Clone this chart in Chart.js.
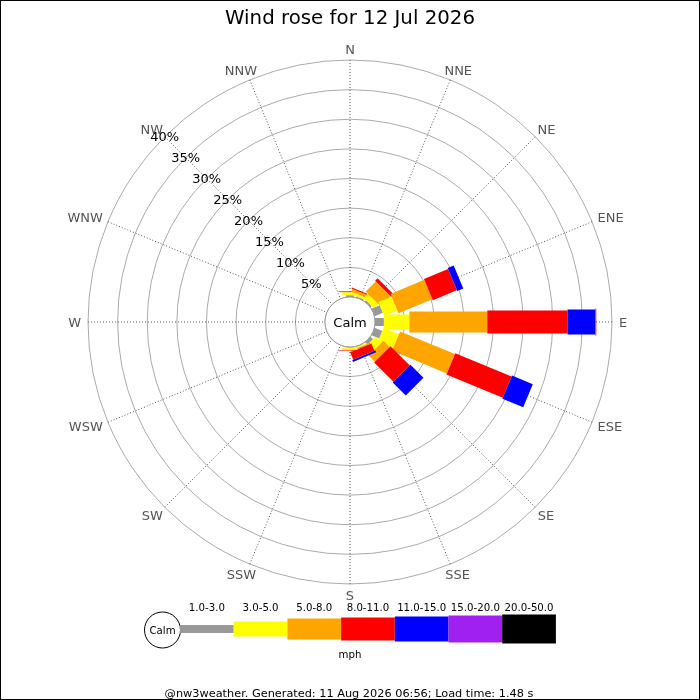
<!DOCTYPE html>
<html>
<head>
<meta charset="utf-8">
<script src="https://cdn.jsdelivr.net/npm/chart.js@4.4.1/dist/chart.umd.min.js"></script>
<style>
  html, body { margin: 0; padding: 0; background: #fff; }
  #wrap { width: 700px; height: 700px; }
</style>
</head>
<body>
<div id="wrap"><canvas id="rose"></canvas></div>
<script>
const directions = ['N', 'NNE', 'NE', 'ENE', 'E', 'ESE', 'SE', 'SSE', 'S', 'SSW', 'SW', 'WSW', 'W', 'WNW', 'NW', 'NNW'];
const speedBins = ['1.0-3.0', '3.0-5.0', '5.0-8.0', '8.0-11.0', '11.0-15.0', '15.0-20.0', '20.0-50.0'];
const binColors = ['#999999', '#ffff00', '#ffa500', '#ff0000', '#0000ff', '#a020f0', '#000000'];

// % of the day per direction, one array per speed band (mph)
const speed1to3   = [0.3, 0.2, 0.3, 1.5, 1.5, 1.4, 0.6, 0.1, 0.1, 0, 0, 0, 0, 0, 0, 0];
const speed3to5   = [0.5, 0.4, 1.0, 2.4, 4.3, 2.8, 1.4, 0.2, 0.4, 0, 0, 0, 0, 0, 0, 0];
const speed5to8   = [0.1, 0.5, 2.4, 6.2, 13.15, 10.0, 1.5, 0.2, 0, 0, 0, 0, 0, 0, 0, 0];
const speed8to11  = [0.1, 0.2, 0.6, 4.4, 13.55, 10.3, 4.6, 1.35, 0.1, 0, 0, 0, 0, 0, 0, 0];
const speed11to15 = [0, 0, 0, 1.1, 4.7, 3.8, 3.1, 0.35, 0, 0, 0, 0, 0, 0, 0, 0];
const speed15to20 = [0, 0, 0, 0, 0.15, 0, 0, 0, 0, 0, 0, 0, 0, 0, 0, 0];
const speed20to50 = [0, 0, 0, 0, 0, 0, 0, 0, 0, 0, 0, 0, 0, 0, 0, 0];

const tickValues = [5, 10, 15, 20, 25, 30, 35, 40];
const tickLabels = ['5%', '10%', '15%', '20%', '25%', '30%', '35%', '40%'];

const titleText = 'Wind rose for 12 Jul 2026';
const footerText = '@nw3weather. Generated: 11 Aug 2026 06:56; Load time: 1.48 s';

const series = [speed1to3, speed3to5, speed5to8, speed8to11, speed11to15, speed15to20, speed20to50];
const barWidths = [8, 15, 21, 23, 25, 27, 29];
const FONT = '"DejaVu Sans", Verdana, sans-serif';

const rosePlugin = {
  id: 'rose',
  afterDatasetsDraw(chart) {
    const ctx = chart.ctx;
    const sc = chart.scales.r;
    const cx = sc.xCenter, cy = sc.yCenter;
    ctx.save();

    // stacked bars, one per direction
    directions.forEach((d, i) => {
      const ang = sc.getIndexAngle(i) - Math.PI / 2;
      let cum = 0;
      chart.data.datasets.forEach((ds, k) => {
        const v = ds.data[i];
        if (!v) return;
        const r0 = sc.getDistanceFromCenterForValue(cum);
        cum += v;
        const r1 = sc.getDistanceFromCenterForValue(cum);
        const w = barWidths[k];
        ctx.save();
        ctx.translate(cx, cy);
        ctx.rotate(ang);
        ctx.fillStyle = ds.backgroundColor;
        ctx.fillRect(r0, -w / 2, r1 - r0, w);
        ctx.restore();
      });
    });

    // calm circle
    const rc = sc.getDistanceFromCenterForValue(0);
    ctx.beginPath();
    ctx.arc(cx, cy, rc, 0, Math.PI * 2);
    ctx.fillStyle = '#fff';
    ctx.fill();
    ctx.strokeStyle = '#999';
    ctx.lineWidth = 1;
    ctx.stroke();
    ctx.fillStyle = '#000';
    ctx.font = '13px ' + FONT;
    ctx.textAlign = 'center';
    ctx.textBaseline = 'middle';
    ctx.fillText('Calm', cx, cy + 1.5);

    // compass labels
    ctx.fillStyle = '#555';
    ctx.font = '13px ' + FONT;
    directions.forEach((d, i) => {
      const a = sc.getIndexAngle(i);
      const p = sc.getPointPosition(i, 269);
      const hw = ctx.measureText(d).width / 2;
      ctx.fillText(d, p.x + hw * Math.sin(a), p.y - 4 * Math.cos(a) + 1.5);
    });

    // percentage labels along NW
    ctx.fillStyle = '#000';
    const nw = directions.indexOf('NW');
    tickValues.forEach((v, j) => {
      const p = sc.getPointPosition(nw, sc.getDistanceFromCenterForValue(v));
      ctx.fillText(tickLabels[j], p.x, p.y + 1);
    });

    // title
    ctx.font = '19.8px ' + FONT;
    ctx.fillText(titleText, 350, 19);

    // legend
    const lx = 180, segW = 53.7, ly = 629;
    ctx.beginPath();
    ctx.arc(162.5, 630, 18, 0, Math.PI * 2);
    ctx.fillStyle = '#fff';
    ctx.fill();
    ctx.strokeStyle = '#000';
    ctx.stroke();
    ctx.fillStyle = '#000';
    ctx.font = '10.2px ' + FONT;
    ctx.fillText('Calm', 162.5, 631);
    speedBins.forEach((b, k) => {
      const x0 = lx + k * segW;
      ctx.fillStyle = binColors[k];
      ctx.fillRect(x0, ly - barWidths[k] / 2, segW, barWidths[k]);
      ctx.fillStyle = '#000';
      ctx.fillText(b, x0 + segW / 2, 608);
    });
    ctx.fillText('mph', 350, 655);

    // footer
    ctx.font = '11.3px ' + FONT;
    ctx.fillText(footerText, 349, 694);

    // frame
    ctx.strokeStyle = '#000';
    ctx.lineWidth = 1;
    ctx.strokeRect(0.5, 0.5, chart.width - 1, chart.height - 1);
    ctx.restore();
  }
};

new Chart(document.getElementById('rose'), {
  type: 'radar',
  data: {
    labels: directions,
    datasets: series.map((s, k) => ({
      label: speedBins[k],
      data: s,
      backgroundColor: binColors[k],
      borderWidth: 0,
      pointRadius: 0,
      showLine: false,
      fill: false
    }))
  },
  options: {
    responsive: true,
    maintainAspectRatio: false,
    animation: false,
    events: [],
    layout: {
      padding: { left: 88, right: 88, top: 60, bottom: 116 }
    },
    scales: {
      r: {
        min: -4.219,
        max: 40,
        afterBuildTicks: (s) => {
          s.ticks = [0].concat(tickValues).map(v => ({ value: v }));
        },
        ticks: { display: false },
        pointLabels: { display: false },
        grid: { circular: true, color: '#aaa', lineWidth: 1 },
        angleLines: { display: true, color: '#555', lineWidth: 1, borderDash: [1, 2] }
      }
    },
    plugins: {
      legend: { display: false },
      tooltip: { enabled: false }
    }
  },
  plugins: [rosePlugin]
});
</script>
</body>
</html>
